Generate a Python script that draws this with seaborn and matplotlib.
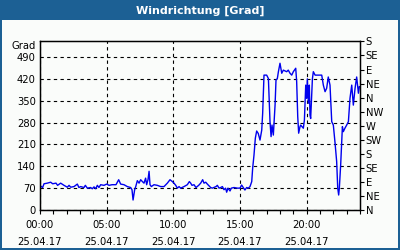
import matplotlib
matplotlib.use("Agg")
import matplotlib.pyplot as plt
from matplotlib.patches import Rectangle
from matplotlib.ticker import MultipleLocator, FixedLocator
import seaborn as sns
import pandas as pd

# ---- data (hours since 00:00, wind direction in degrees) ----
hours = [0.0, 0.2, 0.3, 0.55, 0.8, 0.95, 1.2, 1.32, 1.55, 1.8, 2.05, 2.18, 2.3, 2.55,
         2.8, 2.92, 3.05, 3.3, 3.4, 3.55, 3.8, 3.92, 4.05, 4.18, 4.3, 4.42, 4.55, 4.8,
         5.0, 5.18, 5.4, 5.7, 5.9, 6.05, 6.3, 6.55, 6.8, 6.9, 6.98, 7.1, 7.18, 7.3,
         7.43, 7.55, 7.68, 7.8, 7.92, 8.0, 8.1, 8.18, 8.25, 8.35, 8.55, 8.8, 9.05,
         9.3, 9.55, 9.75, 9.93, 10.05, 10.18, 10.3, 10.43, 10.55, 10.8, 11.05, 11.2,
         11.3, 11.4, 11.55, 11.7, 11.9, 12.05, 12.2, 12.3, 12.43, 12.55, 12.8, 12.92,
         13.2, 13.3, 13.43, 13.55, 13.68, 13.8, 13.92, 14.0, 14.1, 14.25, 14.35,
         14.55, 14.8, 15.0, 15.12, 15.25, 15.37, 15.5, 15.62, 15.75, 15.88, 15.95,
         16.05, 16.15, 16.25, 16.37, 16.5, 16.63, 16.7, 16.8, 17.0, 17.13, 17.25,
         17.33, 17.4, 17.5, 17.63, 17.7, 17.8, 17.88, 18.0, 18.13, 18.25, 18.5,
         18.62, 18.75, 18.88, 19.0, 19.18, 19.25, 19.33, 19.4, 19.5, 19.55, 19.75,
         19.83, 19.93, 20.0, 20.05, 20.13, 20.2, 20.25, 20.3, 20.43, 20.5, 20.63,
         21.13, 21.25, 21.38, 21.5, 21.62, 21.75, 21.88, 22.0, 22.13, 22.25, 22.33,
         22.4, 22.45, 22.55, 22.68, 22.75, 22.87, 23.0, 23.13, 23.25, 23.38, 23.5,
         23.63, 23.75, 23.88, 23.95]
degrees = [78, 72, 84, 86, 89, 84, 86, 79, 86, 79, 73, 79, 73, 75,
           83, 72, 75, 72, 79, 70, 72, 68, 74, 68, 79, 72, 81, 79,
           83, 79, 81, 81, 97, 83, 81, 75, 72, 65, 32, 65, 75, 94,
           86, 97, 91, 86, 102, 81, 97, 124, 81, 75, 81, 79, 75,
           75, 86, 97, 91, 86, 79, 70, 75, 70, 75, 81, 91,
           86, 79, 81, 72, 79, 86, 97, 86, 89, 83, 72, 70,
           75, 79, 70, 72, 75, 65, 70, 57, 70, 61, 70,
           72, 70, 70, 80, 72, 64, 72, 70, 75, 91, 134,
           176, 230, 253, 245, 224, 256, 310, 432, 432, 421, 283,
           235, 272, 240, 336, 416, 421, 443, 470, 438, 448, 443,
           448, 438, 432, 443, 454, 411, 299, 246, 267, 272, 262,
           288, 400, 358, 420, 342, 400, 304, 293, 420, 443, 432,
           432, 400, 379, 390, 426, 400, 283, 272, 214, 155, 70,
           48, 70, 144, 267, 251, 262, 272, 283, 358, 400, 336,
           390, 426, 374, 395]

y_ticks = [0, 70, 140, 210, 280, 350, 420, 490]
x_major = [0, 5, 10, 15, 20]
x_labels = ["00:00\n25.04.17", "05:00\n25.04.17", "10:00\n25.04.17",
            "15:00\n25.04.17", "20:00\n25.04.17"]
compass = ["N", "NE", "E", "SE", "S", "SW", "W", "NW",
           "N", "NE", "E", "SE", "S"]
compass_deg = [0, 45, 90, 135, 180, 225, 270, 315, 360, 405, 450, 495, 540]

df = pd.DataFrame({"hour": hours, "deg": degrees})

BLUE_BAR = "#1c6094"
BG = "#fafcfa"
FS = 7.2

fig = plt.figure(figsize=(4, 2.5), dpi=100, facecolor=BG)

# title bar and frame
fig.patches.append(Rectangle((0, 1 - 20 / 250), 1, 20 / 250, transform=fig.transFigure,
                             facecolor=BLUE_BAR, edgecolor="none", zorder=0))
fig.patches.append(Rectangle((0, 0), 2 / 400, 1, transform=fig.transFigure,
                             facecolor=BLUE_BAR, edgecolor="none", zorder=0))
fig.patches.append(Rectangle((1 - 2 / 400, 0), 2 / 400, 1, transform=fig.transFigure,
                             facecolor=BLUE_BAR, edgecolor="none", zorder=0))
fig.patches.append(Rectangle((0, 0), 1, 2 / 250, transform=fig.transFigure,
                             facecolor=BLUE_BAR, edgecolor="none", zorder=0))
fig.text(0.5, 1 - 10.5 / 250, "Windrichtung [Grad]", color="white", fontsize=8,
         fontweight="bold", ha="center", va="center")

ax = fig.add_axes([40 / 400, 1 - 210 / 250, 320 / 400, 168.6 / 250])
ax.set_facecolor(BG)

sns.lineplot(data=df, x="hour", y="deg", ax=ax, color="#0000ee", linewidth=1.0,
             estimator=None, sort=False)

ax.set_xlim(0, 24)
ax.set_ylim(0, 540)
ax.set_xlabel("")
ax.set_ylabel("")
ax.yaxis.set_major_locator(FixedLocator(y_ticks))
ax.set_yticklabels([str(v) for v in y_ticks], fontsize=FS)
ax.tick_params(axis="y", length=0, pad=3)
ax.xaxis.set_major_locator(FixedLocator(x_major))
ax.set_xticklabels(x_labels, fontsize=FS, linespacing=1.9)
ax.xaxis.set_minor_locator(MultipleLocator(1))
ax.tick_params(axis="x", which="both", direction="out", length=3, width=0.8, pad=4)
ax.grid(True, color="black", linestyle=(0, (3, 3)), linewidth=0.8)
for s in ax.spines.values():
    s.set_color("black")
    s.set_linewidth(1.0)

ax.text(-0.012, 1.0, "Grad", transform=ax.transAxes, fontsize=FS,
        ha="right", va="top")

ax2 = ax.twinx()
ax2.set_ylim(0, 540)
ax2.yaxis.set_major_locator(FixedLocator(compass_deg))
ax2.set_yticklabels(compass, fontsize=FS)
ax2.tick_params(axis="y", direction="out", length=3, width=0.8, pad=1)
ax2.grid(False)

fig.savefig("out.png", dpi=100, facecolor=BG)
